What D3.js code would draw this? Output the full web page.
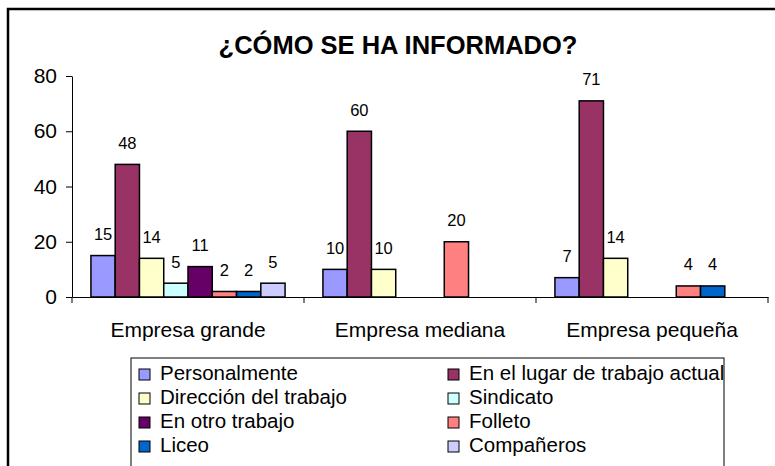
<!DOCTYPE html>
<html>
<head>
<meta charset="utf-8">
<script src="https://cdn.jsdelivr.net/npm/d3@7"></script>
<style>
  html, body { margin: 0; padding: 0; background: #fff; }
  svg { display: block; font-family: "Liberation Sans", Arial, sans-serif; }
</style>
</head>
<body>
<svg id="chart" width="775" height="466"></svg>
<script>
// Company size groups
const categories = ["Empresa grande", "Empresa mediana", "Empresa pequeña"];

// Information sources (series)
const seriesNames = [
  "Personalmente", "En el lugar de trabajo actual", "Dirección del trabajo", "Sindicato",
  "En otro trabajo", "Folleto", "Liceo", "Compañeros"
];

// Values per series, one entry per company size (null = no bar)
const personalmente   = [15, 10, 7];
const lugarTrabajo    = [48, 60, 71];
const direccion       = [14, 10, 14];
const sindicato       = [5, null, null];
const otroTrabajo     = [11, null, null];
const folleto         = [2, 20, 4];
const liceo           = [2, null, 4];
const companeros      = [5, null, null];

const seriesValues = [personalmente, lugarTrabajo, direccion, sindicato, otroTrabajo, folleto, liceo, companeros];

const seriesColors = ["#9999FF", "#993366", "#FFFFCC", "#CCFFFF", "#660066", "#FF8080", "#0066CC", "#CCCCFF"];

const yTicks = [0, 20, 40, 60, 80];

const svg = d3.select("#chart");

// Outer chart frame
svg.append("rect")
  .attr("x", 8).attr("y", 9)
  .attr("width", 820).attr("height", 520)
  .attr("fill", "none").attr("stroke", "#000").attr("stroke-width", 2.5);

// Title
svg.append("text")
  .attr("x", 398).attr("y", 54)
  .attr("text-anchor", "middle")
  .attr("font-size", 25.5).attr("font-weight", "bold")
  .text("¿CÓMO SE HA INFORMADO?");

// Scales
const x0 = d3.scaleBand().domain(categories).range([72, 768]).padding(0);
const x1 = d3.scaleBand().domain(seriesNames).range([0, x0.bandwidth()])
  .paddingInner(0).paddingOuter(0.78);
const y = d3.scaleLinear().domain([0, 80]).range([297, 76]);

// Y axis
const yAxis = svg.append("g")
  .attr("transform", "translate(72,0)")
  .call(d3.axisLeft(y).tickValues(yTicks).tickSize(6).tickSizeOuter(0).tickPadding(9));
yAxis.selectAll("text").attr("font-size", 21).attr("fill", "#000").attr("font-family", "Liberation Sans, Arial, sans-serif");
yAxis.selectAll("line, path").attr("stroke", "#000");

// Bars
const groups = svg.append("g").selectAll("g")
  .data(categories)
  .join("g")
  .attr("transform", d => `translate(${x0(d)},0)`);

const barData = (cat, ci) => seriesNames.map((s, si) => ({ series: s, si, value: seriesValues[si][ci] }))
  .filter(d => d.value !== null);

groups.each(function(cat, ci) {
  const g = d3.select(this);
  const items = barData(cat, ci);
  g.selectAll("rect")
    .data(items)
    .join("rect")
    .attr("x", d => x1(d.series))
    .attr("y", d => y(d.value))
    .attr("width", x1.bandwidth())
    .attr("height", d => y(0) - y(d.value))
    .attr("fill", d => seriesColors[d.si])
    .attr("stroke", "#000")
    .attr("stroke-width", 1.5);
  g.selectAll("text")
    .data(items)
    .join("text")
    .attr("x", d => x1(d.series) + x1.bandwidth() / 2)
    .attr("y", d => y(d.value) - 15.5)
    .attr("text-anchor", "middle")
    .attr("font-size", 16.5)
    .text(d => d.value);
});

// X axis: baseline, category labels and group separators
const xAxis = svg.append("g")
  .attr("transform", "translate(0,297)")
  .call(d3.axisBottom(x0).tickSize(0).tickSizeOuter(0).tickPadding(24.6));
xAxis.selectAll("text").attr("font-size", 21).attr("fill", "#000").attr("font-family", "Liberation Sans, Arial, sans-serif");
xAxis.select("path").attr("stroke", "#000");

const boundaries = categories.map(c => x0(c)).concat([x0.range()[1]]);
svg.append("g").selectAll("line")
  .data(boundaries)
  .join("line")
  .attr("x1", d => d).attr("x2", d => d)
  .attr("y1", 297).attr("y2", 303)
  .attr("stroke", "#000");

// Legend
const legend = svg.append("g");
legend.append("rect")
  .attr("x", 131).attr("y", 358)
  .attr("width", 593).attr("height", 130)
  .attr("fill", "#fff").attr("stroke", "#000").attr("stroke-width", 1);

const legendItems = legend.selectAll("g")
  .data(seriesNames)
  .join("g")
  .attr("transform", (d, i) => `translate(${i % 2 === 0 ? 139 : 448},${380 + Math.floor(i / 2) * 24})`);

legendItems.append("rect")
  .attr("x", 0).attr("y", -11)
  .attr("width", 11).attr("height", 11)
  .attr("fill", (d, i) => seriesColors[i])
  .attr("stroke", "#000").attr("stroke-width", 1);

legendItems.append("text")
  .attr("x", 21).attr("y", 0)
  .attr("font-size", 20.5)
  .text(d => d);
</script>
</body>
</html>
